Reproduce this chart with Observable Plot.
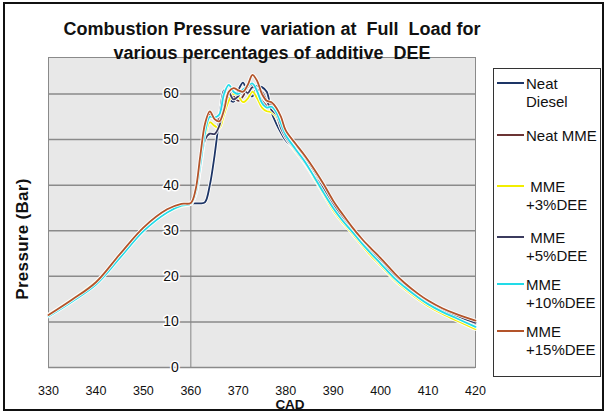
<!DOCTYPE html>
<html>
<head>
<meta charset="utf-8">
<script src="https://cdn.jsdelivr.net/npm/d3@7"></script>
<script src="https://cdn.jsdelivr.net/npm/@observablehq/plot@0.6"></script>
<style>
  html, body { margin: 0; padding: 0; background: #fff; }
  #wrap { position: relative; width: 605px; height: 412px; overflow: hidden; font-family: "Liberation Sans", Arial, sans-serif; }
  #frame { position: absolute; left: 3px; top: 2px; width: 601px; height: 409px; box-sizing: border-box; border: 2px solid #111; pointer-events: none; }
  #chart { position: absolute; left: 0; top: 0; }
  .title { position: absolute; left: 0px; width: 544px; text-align: center; font-weight: bold; font-size: 18px; line-height: 24px; top: 17px; color: #111; z-index: 3; white-space: nowrap; }
  .ylab { position: absolute; left: 23px; top: 239px; transform: translate(-50%, -50%) rotate(-90deg); font-weight: bold; font-size: 17px; letter-spacing: 0.3px; white-space: nowrap; color: #111; }
  .xlab { position: absolute; left: 290px; top: 398px; transform: translateX(-50%); font-weight: bold; font-size: 13.5px; line-height: 13px; color: #111; }
  #legend { position: absolute; left: 493px; top: 68px; width: 108px; height: 309px; box-sizing: border-box; border: 1px solid #333; background: #fff; }
  .entry { position: absolute; left: 0; font-size: 15px; line-height: 18px; color: #111; }
  .swatch { position: absolute; left: 3px; width: 27px; height: 2px; }
  .etext { position: absolute; left: 32px; white-space: nowrap; }
</style>
</head>
<body>
<div id="wrap">
  <div id="chart"></div>
  <div class="title">Combustion Pressure&nbsp; variation at&nbsp; Full&nbsp; Load for<br>various percentages of additive&nbsp; DEE</div>
  <div class="ylab">Pressure (Bar)</div>
  <div class="xlab">CAD</div>
  <div id="legend"></div>
  <div id="frame"></div>
</div>
<script>
// ---- data ----
const cad = [330,335,340,345,350,355,358,360,361,362,363,364,365,366,367,368,369,370,371,372,373,374,375,376,377,378,379,380,382,384,386,388,390,392,394,396,398,400,403,405,408,410,413,416,420];

const neatDiesel = [11.3,14.6,18.4,24.4,30.4,34.4,35.8,36.0, 36.0,36.0,36.3,40.0,46.5,54.5,60.8,59.0,58.3,60.8,62.5,60.0,59.5,61.8,61.5,60.5,56.0,53.5,51.5,49.8, 47.8,45.3,42.0,38.8,35.5,32.6,30.0,27.6,25.4,23.4, 20.0,18.0,15.6,14.2,12.6,11.2,9.6];
const neatMME    = [11.4,14.8,18.6,24.7,30.6,34.6,35.9,36.0, 38.5,45.0,52.0,55.5,54.5,54.5,57.5,60.5,59.5,58.5,59.5,61.5,62.0,60.5,58.5,57.5,57.8,57.0,54.5,52.0, 49.0,46.2,43.0,39.6,36.2,33.3,30.5,28.0,25.8,23.8, 20.4,18.4,15.9,14.5,12.8,11.5,10.0];
const mme3       = [11.6,15.0,18.8,24.5,30.2,34.0,35.4,35.9, 38.0,44.0,50.5,53.8,53.0,52.5,55.5,58.5,60.0,59.5,58.2,59.0,60.5,59.0,57.0,56.2,56.0,55.0,52.5,50.5, 47.5,44.8,41.5,38.0,34.5,31.8,29.4,26.9,24.5,22.4, 19.1,17.3,14.9,13.5,11.8,10.3,8.4];
const mme5       = [11.4,14.7,18.5,24.5,30.5,34.5,35.8,36.0, 38.0,44.0,50.0,51.3,51.2,53.0,57.5,60.3,58.8,59.5,61.0,60.2,61.5,61.0,60.5,58.5,56.5,55.5,52.5,50.5, 47.8,45.0,42.0,39.2,35.8,33.0,30.3,27.8,25.6,23.6, 20.2,18.2,15.8,14.4,12.7,11.3,9.8];
const mme10      = [11.2,14.5,18.2,24.0,29.9,34.0,35.5,35.9, 38.2,44.5,51.5,55.0,54.8,55.5,60.0,62.0,60.5,60.0,61.0,61.8,62.3,60.5,58.0,57.0,57.2,56.0,53.5,51.0, 48.0,45.2,41.8,38.3,35.0,32.2,29.8,27.3,25.0,22.8, 19.5,17.7,15.3,13.9,12.2,10.8,8.9];
const mme15      = [11.5,14.9,18.7,24.8,30.7,34.7,35.9,36.1, 39.0,46.5,53.5,56.2,54.5,54.0,56.5,60.5,61.3,60.8,60.5,62.0,64.2,62.8,60.0,58.5,58.2,57.0,55.0,52.0, 49.2,46.5,43.5,40.2,36.6,33.6,30.8,28.3,26.1,24.0, 20.6,18.6,16.1,14.7,13.0,11.7,10.3];

const seriesNames = ["Neat Diesel", "Neat MME", "MME +3%DEE", "MME +5%DEE", "MME +10%DEE", "MME +15%DEE"];
const legendLines = [["Neat", "Diesel"], ["Neat MME"], ["\u00a0MME", "+3%DEE"], ["\u00a0MME", "+5%DEE"], ["MME", "+10%DEE"], ["MME", "+15%DEE"]];
const seriesValues = [neatDiesel, neatMME, mme3, mme5, mme10, mme15];
const xTicks = [330,340,350,360,370,380,390,400,410,420];
const yTicks = [0,10,20,30,40,50,60];

// ---- styles ----
const colors = ["#1d3566", "#6b3434", "#f2ee00", "#3b3b5e", "#22dbe8", "#b3542a"];
const legendY = [83, 135, 186, 237, 284, 331];

const rows = [];
seriesNames.forEach((name, i) => {
  cad.forEach((c, j) => rows.push({series: name, idx: i, cad: c, p: seriesValues[i][j]}));
});

const lineMarks = [];
seriesNames.forEach((name, i) => {
  const d = rows.filter(r => r.idx === i);
  lineMarks.push(Plot.line(d, {x: "cad", y: "p", stroke: "#ffffff", strokeWidth: 3.6, curve: "catmull-rom", strokeOpacity: 0.9}));
  lineMarks.push(Plot.line(d, {x: "cad", y: "p", stroke: colors[i], strokeWidth: 1.8, curve: "catmull-rom"}));
});

const chart = Plot.plot({
  width: 605,
  height: 412,
  marginLeft: 48,
  marginRight: 130,
  marginTop: 57,
  marginBottom: 45,
  style: {background: "transparent", fontFamily: "'Liberation Sans', Arial, sans-serif", color: "#111"},
  x: {domain: [330, 420]},
  y: {domain: [0, 68], axis: null},
  marks: [
    Plot.frame({fill: "#e8e8e8", stroke: null}),
    Plot.ruleY(yTicks, {stroke: "#8a8a8a", strokeWidth: 1.5}),
    Plot.ruleX([360], {stroke: "#858585", strokeWidth: 1}),
    Plot.frame({stroke: "#8a8a8a", strokeWidth: 1}),
    ...lineMarks,
    Plot.text(yTicks, {x: () => 360, y: d => d, text: d => String(d), textAnchor: "end", dx: -12, fontSize: 14, fill: "#111", stroke: "#fff", strokeWidth: 3}),
    Plot.axisX(xTicks, {tickSize: 0, tickPadding: 19, fontSize: 12.5, label: null, tickFormat: d => String(d)})
  ]
});
document.getElementById("chart").appendChild(chart);

// legend
const lg = document.getElementById("legend");
seriesNames.forEach((name, i) => {
  const cy = legendY[i] - 68 - 1;
  const sw = document.createElement("div");
  sw.className = "swatch";
  sw.style.top = (cy - 1) + "px";
  sw.style.background = colors[i];
  lg.appendChild(sw);
  const t = document.createElement("div");
  t.className = "entry etext";
  t.style.top = (cy - 8) + "px";
  t.innerHTML = legendLines[i].join("<br>");
  lg.appendChild(t);
});
</script>
</body>
</html>
